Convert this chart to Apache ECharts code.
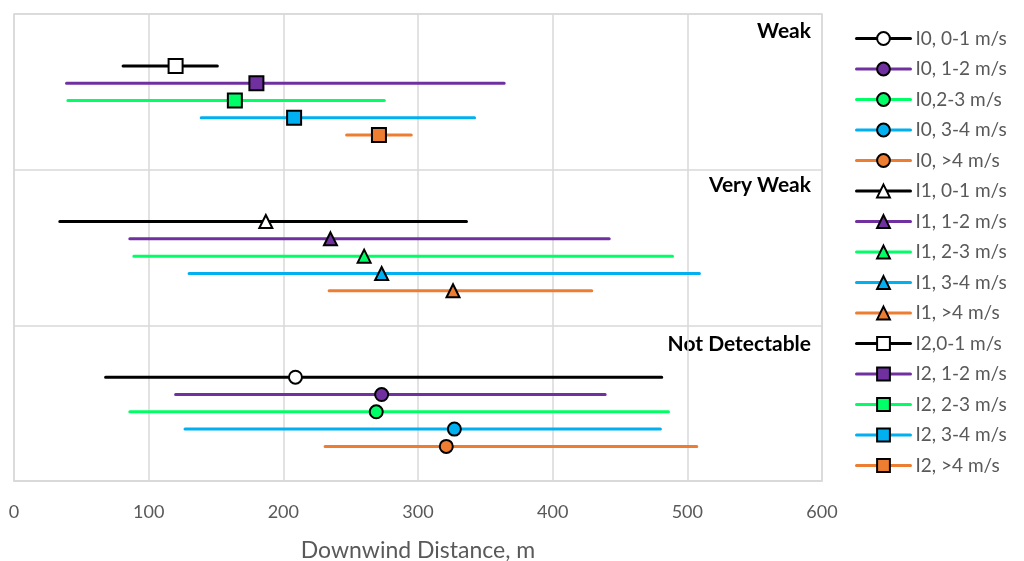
<!DOCTYPE html>
<html>
<head>
<meta charset="utf-8">
<script src="https://cdn.jsdelivr.net/npm/echarts@6/dist/echarts.min.js"></script>
<style>html,body{margin:0;padding:0;background:#fff;}#c{width:1024px;height:561px;}</style>
</head>
<body>
<div id="c"></div>
<script>
// ---- data ----
const bandNames = ['Not Detectable', 'Very Weak', 'Weak'];        // band index 0,1,2 (bottom to top)
const groupNames = ['I0', 'I1', 'I2'];                            // I0 -> band 0, I1 -> band 1, I2 -> band 2
const speedNames = ['0-1 m/s', '1-2 m/s', '2-3 m/s', '3-4 m/s', '>4 m/s'];
const legendNames = [
  'I0, 0-1 m/s', 'I0, 1-2 m/s', 'I0,2-3 m/s', 'I0, 3-4 m/s', 'I0, >4 m/s',
  'I1, 0-1 m/s', 'I1, 1-2 m/s', 'I1, 2-3 m/s', 'I1, 3-4 m/s', 'I1, >4 m/s',
  'I2,0-1 m/s', 'I2, 1-2 m/s', 'I2, 2-3 m/s', 'I2, 3-4 m/s', 'I2, >4 m/s'
];
const rowY = [6/9, 5/9, 4/9, 3/9, 2/9];                           // y value within band for each speed class
// I0 (Not Detectable)
const i0Low  = [68, 120, 86, 127, 231];
const i0Mean = [209, 273, 269, 327, 321];
const i0High = [481, 439, 486, 480, 507];
// I1 (Very Weak)
const i1Low  = [34, 86, 89, 130, 234];
const i1Mean = [187, 235, 260, 273, 326];
const i1High = [336, 442, 489, 509, 429];
// I2 (Weak)
const i2Low  = [81, 39, 40, 139, 247];
const i2Mean = [120, 180, 164, 208, 271];
const i2High = [151, 364, 275, 342, 295];
const xTicks = [0, 100, 200, 300, 400, 500, 600];

// ---- styling ----
const lineColors = ['#000000', '#7030A0', '#00FF66', '#00B0F0', '#ED7D31'];
const fillColors = ['#FFFFFF', '#7030A0', '#00FF66', '#00B0F0', '#ED7D31'];
const groupSymbols = ['circle', 'triangle', 'rect'];
const groupSymbolSize = [13, 13, 14];
const FONT = 'Lato, "Open Sans", sans-serif';

const lows = [i0Low, i1Low, i2Low];
const means = [i0Mean, i1Mean, i2Mean];
const highs = [i0High, i1High, i2High];

const series = [];
for (let g = 0; g < 3; g++) {
  for (let s = 0; s < 5; s++) {
    const y = g + rowY[s];
    series.push({
      type: 'line',
      name: legendNames[g * 5 + s],
      symbol: groupSymbols[g],
      symbolSize: groupSymbolSize[g],
      showAllSymbol: true,
      z: 2,
      lineStyle: { color: lineColors[s], width: 3, cap: 'round' },
      itemStyle: { color: fillColors[s], borderColor: '#000', borderWidth: 2 },
      emphasis: { disabled: true },
      animation: false,
      data: [
        { value: [lows[g][s], y], symbol: 'none' },
        { value: [means[g][s], y] },
        { value: [highs[g][s], y], symbol: 'none' }
      ]
    });
  }
}

const chart = echarts.init(document.getElementById('c'), null, { renderer: 'canvas' });
chart.setOption({
  backgroundColor: '#fff',
  animation: false,
  textStyle: { fontFamily: FONT },
  grid: { left: 14, right: 202, top: 14, height: 467, outerBoundsMode: 'none', containLabel: false,
          show: true, borderColor: '#D9D9D9', borderWidth: 1.5 },
  xAxis: {
    type: 'value', min: xTicks[0], max: xTicks[xTicks.length - 1], interval: 100,
    name: 'Downwind Distance, m', nameLocation: 'middle', nameGap: 58,
    nameTextStyle: { color: '#595959', fontSize: 23, fontFamily: FONT },
    axisLine: { show: true, lineStyle: { color: '#D9D9D9', width: 1.5 } },
    axisTick: { show: false },
    axisLabel: { color: '#595959', fontSize: 18, margin: 22, fontFamily: FONT },
    splitLine: { show: true, lineStyle: { color: '#D9D9D9', width: 1.5 } }
  },
  yAxis: {
    type: 'value', min: 0, max: 3, interval: 1,
    axisLine: { show: false }, axisTick: { show: false }, axisLabel: { show: false },
    splitLine: { show: true, lineStyle: { color: '#D9D9D9', width: 1.5 } }
  },
  legend: {
    orient: 'vertical', left: 850, top: 24,
    itemWidth: 54, itemHeight: 16, itemGap: 11.5,
    lineStyle: { width: 3 },
    textStyle: { color: '#595959', fontSize: 19, fontFamily: FONT },
    selectedMode: false,
    data: legendNames
  },
  graphic: [
    { type: 'text', x: 811, y: 31, style: { text: bandNames[2], align: 'right', verticalAlign: 'middle', font: 'bold 21px ' + FONT, fill: '#000' } },
    { type: 'text', x: 811, y: 185, style: { text: bandNames[1], align: 'right', verticalAlign: 'middle', font: 'bold 21px ' + FONT, fill: '#000' } },
    { type: 'text', x: 811, y: 344, style: { text: bandNames[0], align: 'right', verticalAlign: 'middle', font: 'bold 21px ' + FONT, fill: '#000' } }
  ],
  series: series
});
</script>
</body>
</html>
